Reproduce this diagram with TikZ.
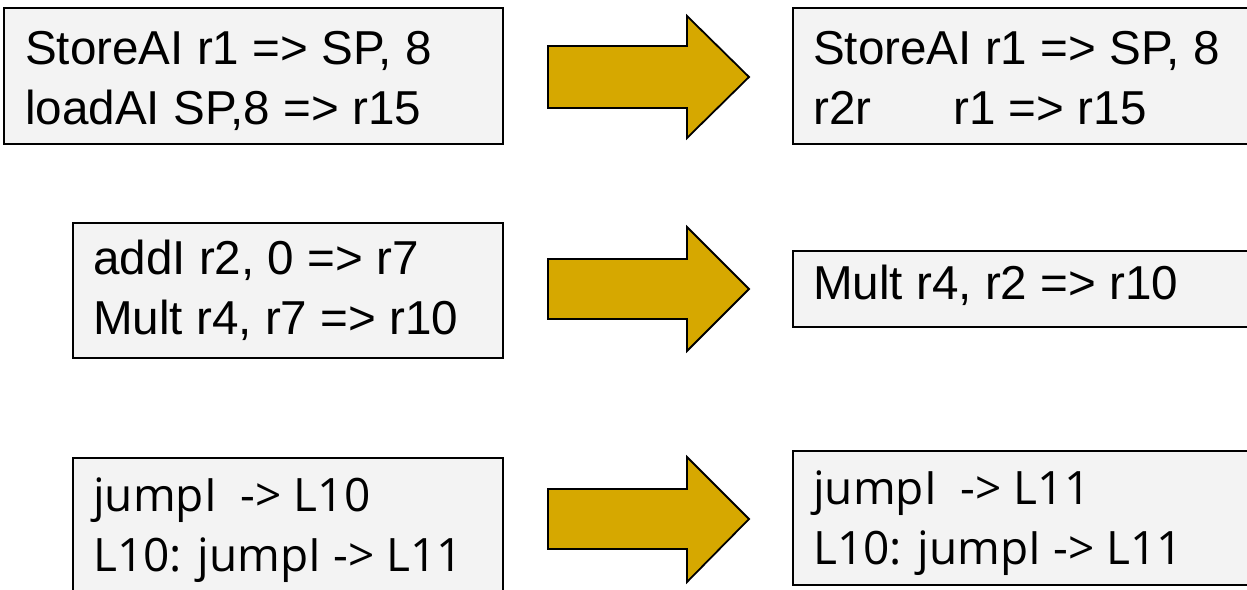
\documentclass[tikz,border=0pt]{standalone}
\usepackage{fontspec}
\setmainfont{Liberation Sans}
\newfontfamily\osans{Open Sans}
\definecolor{boxfill}{HTML}{F3F3F3}
\definecolor{arrowfill}{HTML}{D6A800}
\begin{document}
\begin{tikzpicture}[x=1pt,y=1pt,
  codebox/.style={draw=black,line width=2pt,fill=boxfill,rectangle,inner sep=0pt},
  codeline/.style={anchor=base west,inner sep=0pt,font=\fontsize{47.6}{60}\selectfont},
  codelineb/.style={anchor=base west,inner sep=0pt,font=\fontsize{46}{60}\selectfont\osans},
  bigarrow/.style={draw=black,line width=1.8pt,fill=arrowfill,line join=miter}]
\clip (0,0) rectangle (1247,589);
\fill[white] (0,0) rectangle (1247,589);
% boxes (pixel y flipped: y = 589 - ypx)
\node[codebox,minimum width=499pt,minimum height=136pt] (b1) at (253.5,513) {};
\node[codebox,minimum width=480pt,minimum height=136pt] (b2) at (1033,513) {};
\node[codebox,minimum width=430pt,minimum height=135pt] (b3) at (288,298.5) {};
\node[codebox,minimum width=480pt,minimum height=76pt] (b4) at (1033,300) {};
\node[codebox,minimum width=430pt,minimum height=150pt] (b5) at (288,56) {};
\node[codebox,minimum width=480pt,minimum height=134pt] (b6) at (1033,71) {};
% texts
\node[codeline] (t1a) at (25,524) {StoreAI r1 => SP, 8};
\node[codeline] (t1b) at (25,464) {loadAI SP,8 => r15};
\node[codeline] (t2a) at (813,524) {StoreAI r1 => SP, 8};
\node[codeline] (t2b) at (813,464) {r2r\hspace{82pt}r1 => r15};
\node[codeline] (t3a) at (93,314) {addI r2, 0 => r7};
\node[codeline] (t3b) at (93,254) {Mult r4, r7 => r10};
\node[codeline] (t4a) at (813,289) {Mult r4, r2 => r10};
\node[codelineb] (t5a) at (93,77) {jumpI\ \ -> L10};
\node[codelineb] (t5b) at (93,17) {L10: jumpI -> L11};
\node[codelineb] (t6a) at (813,84) {jumpI\ \ -> L11};
\node[codelineb] (t6b) at (813,24) {L10: jumpI -> L11};
% big arrows
\draw[bigarrow] (548,543) -- (687,543) -- (687,573) -- (749,512) -- (687,451) -- (687,481) -- (548,481) -- cycle;
\draw[bigarrow] (548,330) -- (687,330) -- (687,362) -- (749,300) -- (687,238) -- (687,270) -- (548,270) -- cycle;
\draw[bigarrow] (548,100) -- (687,100) -- (687,132) -- (749,70) -- (687,7) -- (687,40) -- (548,40) -- cycle;
\end{tikzpicture}
\end{document}
